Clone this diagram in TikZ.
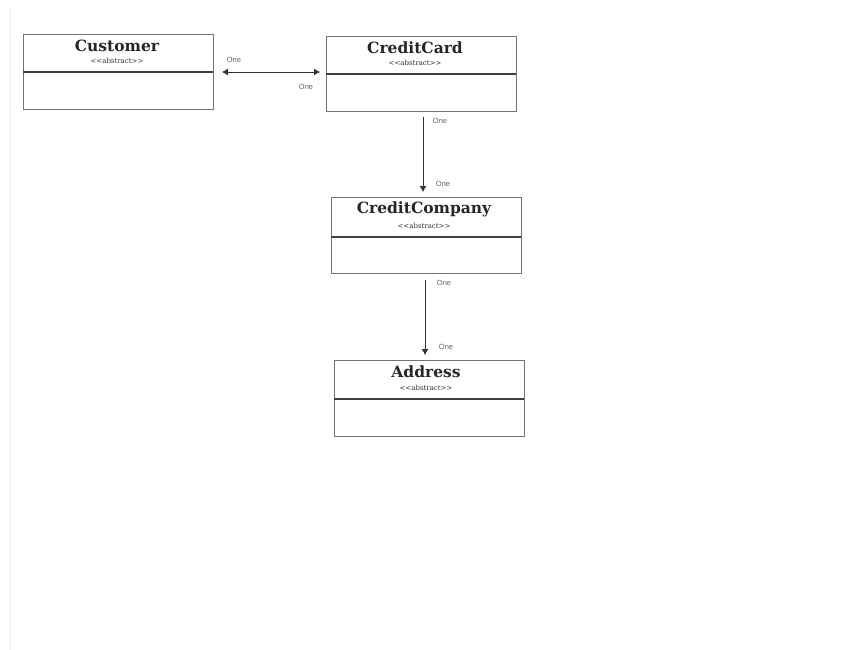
\documentclass[tikz,border=0pt]{standalone}
\usepackage{fontspec}
\setmainfont{DejaVu Serif}
\newfontfamily\labelfont{Liberation Sans}
\usetikzlibrary{arrows.meta}
\newcommand{\stereotype}[1]{{<}{<}#1{>}{>}}
\begin{document}
\begin{tikzpicture}[x=1pt,y=-1pt,
  classbox/.style={draw=black!55, line width=1pt, fill=white},
  divider/.style={draw=black!75, line width=1.6pt},
  classname/.style={font=\bfseries\fontsize{15.5}{15.5}\selectfont, text=black!85, inner sep=0pt},
  stereo/.style={font=\fontsize{7}{7}\selectfont, text=black!80, inner sep=0pt},
  mult/.style={font=\labelfont\fontsize{7.5}{7.5}\selectfont, text=black!60, inner sep=0pt},
  assoc/.style={draw=black!80, line width=0.8pt},
  head/.tip={Latex[length=6pt,width=7pt]},
  tip/.style={-head}]
\useasboundingbox (0,0) rectangle (862,650);
\fill[white] (0,0) rectangle (862,650);
% page edge
\draw[black!8, line width=1pt] (10,10) -- (10,650);

% Customer
\node[classbox, minimum width=190pt, minimum height=75pt, anchor=north west] (cust) at (23,34) {};
\draw[divider] (23,72) -- (213,72);
\node[classname] (custn) at (117,46) {Customer};
\node[stereo] (custs) at (117,61) {\stereotype{abstract}};

% CreditCard
\node[classbox, minimum width=190pt, minimum height=75pt, anchor=north west] (card) at (326,36) {};
\draw[divider] (326,74) -- (516,74);
\node[classname] (cardn) at (415,48) {CreditCard};
\node[stereo] (cards) at (415,63) {\stereotype{abstract}};

% CreditCompany
\node[classbox, minimum width=190pt, minimum height=76pt, anchor=north west] (comp) at (331,197) {};
\draw[divider] (331,237) -- (521,237);
\node[classname] (compn) at (424,209) {CreditCompany};
\node[stereo] (comps) at (424,226) {\stereotype{abstract}};

% Address
\node[classbox, minimum width=190pt, minimum height=76pt, anchor=north west] (addr) at (334,360) {};
\draw[divider] (334,399) -- (524,399);
\node[classname] (addrn) at (426,372) {Address};
\node[stereo] (addrs) at (426,388) {\stereotype{abstract}};

% associations
\coordinate (a1) at (222,72);
\coordinate (a2) at (320,72);
\draw[assoc, head-head] (a1) -- (a2);
\node[mult] (m1) at (234,60) {One};
\node[mult] (m2) at (306,87) {One};

\coordinate (b1) at (423,117);
\coordinate (b2) at (423,192);
\draw[assoc, tip] (b1) -- (b2);
\node[mult] (m3) at (440,121) {One};
\node[mult] (m4) at (443,184) {One};

\coordinate (c1) at (425,280);
\coordinate (c2) at (425,355);
\draw[assoc, tip] (c1) -- (c2);
\node[mult] (m5) at (444,283) {One};
\node[mult] (m6) at (446,347) {One};
\end{tikzpicture}
\end{document}
